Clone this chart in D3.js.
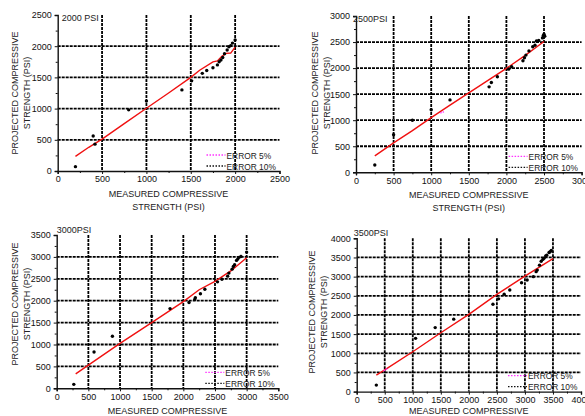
<!DOCTYPE html>
<html>
<head>
<meta charset="utf-8">
<script src="https://cdn.jsdelivr.net/npm/d3@7"></script>
<style>
  body { margin: 0; background: #fff; }
  svg { display: block; font-family: "Liberation Sans", Arial, sans-serif; }
  .tick-label { font-size: 9px; fill: #111; }
  .title { font-size: 9px; fill: #222; }
  .legend { font-size: 8.4px; fill: #222; }
</style>
</head>
<body>
<div id="chart"></div>
<script>
// panel titles and axis limits
var panelNames = ["2000 PSI", "2500PSI", "3000PSI", "3500PSI"];
var axisMax = [2500, 3000, 3500, 4000];

// measured vs projected points, one pair of arrays per panel
var measured2000  = [200, 400, 420, 800, 1000, 1400, 1510, 1630, 1680, 1750, 1800, 1820, 1840, 1860, 1880, 1910, 1930, 1950, 1970, 2000];
var projected2000 = [70, 560, 430, 980, 1120, 1300, 1445, 1565, 1610, 1655, 1700, 1750, 1780, 1820, 1880, 1940, 1990, 2010, 2050, 2100];

var measured2500  = [250, 500, 750, 1000, 1250, 1770, 1800, 1880, 2030, 2070, 2220, 2240, 2260, 2300, 2350, 2380, 2400, 2430, 2480, 2490, 2500, 2510];
var projected2500 = [140, 720, 1000, 1200, 1390, 1640, 1725, 1835, 1980, 2025, 2140, 2200, 2250, 2330, 2410, 2440, 2520, 2530, 2580, 2620, 2650, 2610];

var measured3000  = [270, 590, 880, 1500, 1790, 2090, 2180, 2190, 2270, 2340, 2540, 2610, 2700, 2720, 2770, 2790, 2810, 2840, 2860, 2880, 2910, 3000];
var projected3000 = [90, 830, 1190, 1650, 1820, 1960, 2030, 2070, 2160, 2260, 2430, 2490, 2560, 2630, 2720, 2780, 2820, 2920, 2950, 2990, 3010, 3110];

var measured3500  = [350, 1050, 1400, 1730, 2430, 2530, 2630, 2730, 2940, 3040, 3150, 3200, 3220, 3260, 3290, 3320, 3340, 3370, 3390, 3430, 3450, 3470];
var projected3500 = [170, 1390, 1670, 1890, 2280, 2420, 2540, 2650, 2840, 2910, 3000, 3130, 3170, 3300, 3400, 3450, 3480, 3540, 3560, 3630, 3650, 3680];

// red fitted line
var fitX2000 = [200, 350, 500, 750, 1000, 1250, 1500, 1600, 1750, 1800, 1850, 1900, 1950, 2000];
var fitY2000 = [235, 380, 510, 760, 1005, 1250, 1500, 1615, 1750, 1765, 1840, 1885, 1890, 1985];

var fitX2500 = [250, 500, 750, 1000, 1250, 1500, 1750, 2000, 2250, 2500];
var fitY2500 = [315, 565, 800, 1050, 1290, 1525, 1760, 1995, 2245, 2510];

var fitX3000 = [300, 500, 1000, 1500, 2000, 2250, 2500, 2750, 3000];
var fitY3000 = [330, 530, 1025, 1500, 1980, 2250, 2440, 2680, 2980];

var fitX3500 = [350, 500, 1000, 1500, 2000, 2500, 3000, 3500];
var fitY3500 = [430, 565, 1040, 1535, 2015, 2535, 3015, 3470];

// short pieces of the ERROR 5% line that show from under the red line
var err5X = [null, [1120, 1170], null, [480, 560]];
var err5Y = [null, [1140, 1160], null, [540, 610]];

var legendLabels = ["ERROR 5%", "ERROR 10%"];
var legendColors = ["#ff33ff", "#111"];

window.onload = function(){
    drawAll();
};

function drawAll(){
    var svg = d3.select("#chart").append("svg").attr("width", 585).attr("height", 416);

    // pixel box of each panel
    var boxes = [
        {left: 57.7, right: 279.5, top: 15, bottom: 171, ytx: 15, ycy: 93},
        {left: 356, right: 581.6, top: 16, bottom: 172.3, ytx: 315, ycy: 93},
        {left: 56.7, right: 278.3, top: 235, bottom: 388.3, ytx: 15, ycy: 304},
        {left: 356.7, right: 581, top: 238.3, bottom: 391.6, ytx: 312, ycy: 312}
    ];
    var points = [
        [measured2000, projected2000],
        [measured2500, projected2500],
        [measured3000, projected3000],
        [measured3500, projected3500]
    ];
    var fits = [
        [fitX2000, fitY2000],
        [fitX2500, fitY2500],
        [fitX3000, fitY3000],
        [fitX3500, fitY3500]
    ];

    boxes.forEach(function(b, i){
        drawPanel(svg, b, i, points[i], fits[i]);
    });
}

function drawPanel(svg, b, i, pts, fit){
    var max = axisMax[i];
    var x = d3.scaleLinear().domain([0, max]).range([b.left, b.right]);
    var y = d3.scaleLinear().domain([0, max]).range([b.bottom, b.top]);
    var ticks = d3.range(0, max + 1, 500);
    var minor = d3.range(250, max, 500);
    var inner = ticks.filter(function(t){ return t > 0 && t < max; });
    var g = svg.append("g");

    // dashed grid
    g.selectAll(".vgrid")
        .data(inner)
        .enter().append("line")
        .attr("x1", function(d){ return x(d); })
        .attr("x2", function(d){ return x(d); })
        .attr("y1", b.top)
        .attr("y2", b.bottom)
        .attr("stroke", "#000")
        .attr("stroke-width", 1.8)
        .attr("stroke-dasharray", "3,1");

    g.selectAll(".hgrid")
        .data(inner)
        .enter().append("line")
        .attr("y1", function(d){ return y(d); })
        .attr("y2", function(d){ return y(d); })
        .attr("x1", b.left)
        .attr("x2", b.right)
        .attr("stroke", "#000")
        .attr("stroke-width", 1.8)
        .attr("stroke-dasharray", "3,1");

    // axes
    var xAxis = d3.axisBottom(x).tickValues(ticks).tickSize(3).tickPadding(2).tickFormat(d3.format("d"));
    var yAxis = d3.axisLeft(y).tickValues(ticks).tickSize(3).tickPadding(3).tickFormat(d3.format("d"));

    var gx = g.append("g").attr("transform", "translate(0," + b.bottom + ")").call(xAxis);
    var gy = g.append("g").attr("transform", "translate(" + b.left + ",0)").call(yAxis);
    [gx, gy].forEach(function(a){
        a.select(".domain").attr("stroke", "#111").attr("stroke-width", 1.4);
        a.selectAll(".tick line").attr("stroke", "#111");
        a.selectAll(".tick text").attr("class", "tick-label").style("font-size", "9px")
            .style("font-family", "Liberation Sans, Arial, sans-serif").attr("fill", "#111");
    });

    // minor ticks
    g.append("g").attr("transform", "translate(0," + b.bottom + ")")
        .call(d3.axisBottom(x).tickValues(minor).tickSize(2).tickFormat(""))
        .call(function(s){ s.select(".domain").remove(); s.selectAll("line").attr("stroke", "#111"); });
    g.append("g").attr("transform", "translate(" + b.left + ",0)")
        .call(d3.axisLeft(y).tickValues(minor).tickSize(2).tickFormat(""))
        .call(function(s){ s.select(".domain").remove(); s.selectAll("line").attr("stroke", "#111"); });

    // fitted red line
    var line = d3.line()
        .x(function(d){ return x(d[0]); })
        .y(function(d){ return y(d[1]); });
    var fitData = fit[0].map(function(v, k){ return [v, fit[1][k]]; });
    g.append("path")
        .datum(fitData)
        .attr("d", line)
        .attr("fill", "none")
        .attr("stroke", "#f01010")
        .attr("stroke-width", 1.4);

    if (err5X[i]) {
        var e = err5X[i].map(function(v, k){ return [v, err5Y[i][k]]; });
        g.append("path")
            .datum(e)
            .attr("d", line)
            .attr("fill", "none")
            .attr("stroke", "#ff33ff")
            .attr("stroke-width", 1.3)
            .attr("stroke-dasharray", "1.5,1");
    }

    // measured points
    var dots = pts[0].map(function(v, k){ return [v, pts[1][k]]; });
    g.selectAll(".dot")
        .data(dots)
        .enter().append("circle")
        .attr("cx", function(d){ return x(d[0]); })
        .attr("cy", function(d){ return y(d[1]); })
        .attr("r", 1.7)
        .attr("fill", "#000");

    // panel name
    g.append("text")
        .attr("class", "title")
        .attr("x", b.left + (i == 0 ? 4 : (i == 2 ? 0 : -3)))
        .attr("y", i < 2 ? b.top + 5.5 : b.top - 2)
        .text(panelNames[i]);

    // legend
    legendLabels.forEach(function(lab, k){
        var ly = b.bottom - 16 + k * 11;
        g.append("line")
            .attr("x1", b.right - 73)
            .attr("x2", b.right - 54)
            .attr("y1", ly)
            .attr("y2", ly)
            .attr("stroke", legendColors[k])
            .attr("stroke-width", 1.3)
            .attr("stroke-dasharray", "1.5,1.5");
        g.append("text")
            .attr("class", "legend")
            .attr("x", b.right - 53)
            .attr("y", ly + 3.5)
            .text(lab);
    });

    // axis titles
    var cx = (b.left + b.right) / 2;
    g.append("text").attr("class", "title").attr("x", cx).attr("y", Math.min(b.bottom + 26, 413.5))
        .style("text-anchor", "middle").text("MEASURED COMPRESSIVE");
    g.append("text").attr("class", "title").attr("x", cx).attr("y", b.bottom + 39)
        .style("text-anchor", "middle").text("STRENGTH (PSI)");

    g.append("text").attr("class", "title")
        .attr("transform", "translate(" + (b.ytx + 3) + "," + b.ycy + ") rotate(-90)")
        .style("text-anchor", "middle").text("PROJECTED COMPRESSIVE");
    g.append("text").attr("class", "title")
        .attr("transform", "translate(" + (b.ytx + 15) + "," + b.ycy + ") rotate(-90)")
        .style("text-anchor", "middle").text("STRENGTH (PSI)");
}
</script>
</body>
</html>
